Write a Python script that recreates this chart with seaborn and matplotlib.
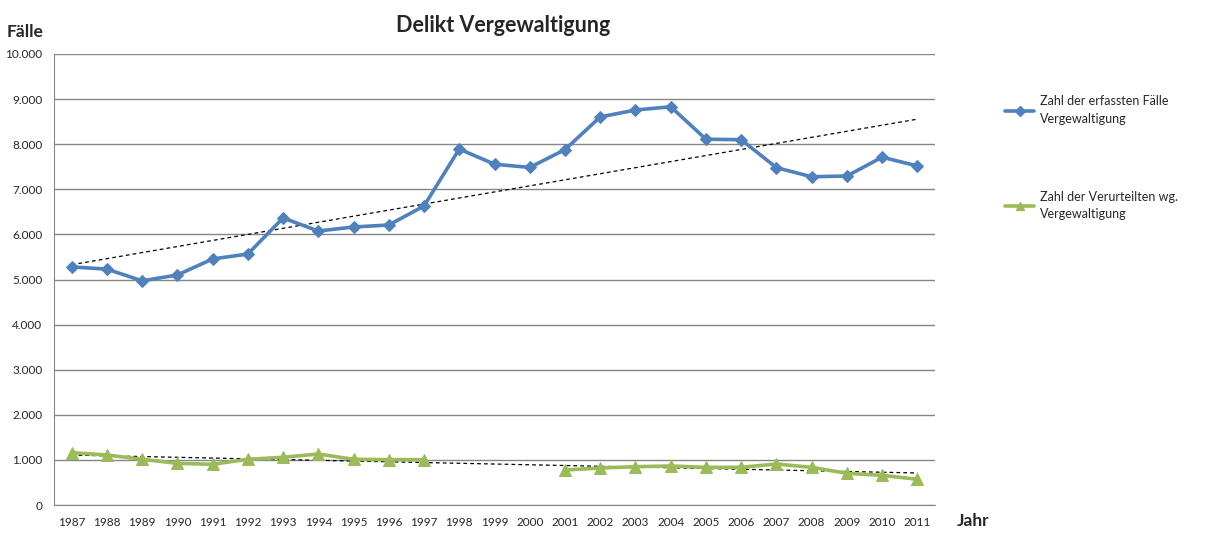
import numpy as np
import pandas as pd
import matplotlib
matplotlib.use("Agg")
import matplotlib.pyplot as plt
import seaborn as sns
from matplotlib.ticker import FuncFormatter, MultipleLocator
from matplotlib.lines import Line2D

years = list(range(1987, 2012))
faelle = [5280, 5230, 4970, 5100, 5455, 5565, 6364, 6075, 6164, 6208, 6630,
          7893, 7556, 7485, 7880, 8605, 8758, 8830, 8110, 8100, 7480, 7278,
          7295, 7712, 7517]
verurteilte = [1160, 1109, 1013, 924, 902, 1013, 1058, 1131, 1013, 1005, 1005,
               np.nan, np.nan, np.nan, 776, 820, 850, 865, 835, 835, 909, 835,
               702, 658, 570]

label_faelle = "Zahl der erfassten Fälle\nVergewaltigung"
label_verurteilte = "Zahl der Verurteilten wg.\nVergewaltigung"

blue = "#4F81BD"
green = "#9BBB59"
grid_col = "#868686"

sns.set_style("white")
plt.rcParams["font.family"] = ["Lato", "DejaVu Sans"]

df = pd.DataFrame({"Jahr": years, "faelle": faelle, "verurteilte": verurteilte})
# segment id so the gap 1998-2000 stays open
df["seg"] = df["verurteilte"].isna().cumsum()

fig = plt.figure(figsize=(12.19, 5.36), dpi=100)
ax = fig.add_axes([54 / 1219, 31 / 536, 881 / 1219, 451 / 536])

# trend lines (linear, like Excel)
sns.regplot(data=df, x="Jahr", y="faelle", scatter=False, ci=None, ax=ax,
            line_kws=dict(color="black", lw=0.9, ls=(0, (3, 2.5))))
sns.regplot(data=df.dropna(), x="Jahr", y="verurteilte", scatter=False, ci=None, ax=ax,
            line_kws=dict(color="black", lw=0.9, ls=(0, (3, 2.5))))

sns.lineplot(data=df, x="Jahr", y="faelle", color=blue, lw=2.6, marker="D",
             markersize=6.5, markeredgecolor=blue, ax=ax, zorder=3)
for _, seg in df.dropna().groupby("seg"):
    sns.lineplot(data=seg, x="Jahr", y="verurteilte", color=green, lw=2.6, marker="^",
                 markersize=8, markeredgecolor=green, ax=ax, zorder=3)

ax.set_xlim(1986.5, 2011.5)
ax.set_ylim(0, 10000)
ax.yaxis.set_major_locator(MultipleLocator(1000))
ax.yaxis.set_major_formatter(FuncFormatter(lambda v, p: f"{int(v):,}".replace(",", ".")))
ax.set_xticks(years)
ax.set_xticklabels([str(y) for y in years])
ax.set_xticks(np.arange(1986.5, 2012, 1), minor=True)
ax.tick_params(axis="x", which="major", length=0, labelsize=8.5, pad=9)
ax.tick_params(axis="x", which="minor", length=5, color=grid_col, direction="out")
ax.tick_params(axis="y", length=5, color=grid_col, labelsize=8.5, direction="out")
ax.grid(axis="y", color=grid_col, lw=1)
ax.set_axisbelow(True)
for s in ["top", "right"]:
    ax.spines[s].set_visible(False)
for s in ["left", "bottom"]:
    ax.spines[s].set_color(grid_col)
ax.set_xlabel("")
ax.set_ylabel("")

fig.text(503 / 1219, 1 - 25 / 536, "Delikt Vergewaltigung", ha="center", va="center",
         fontsize=15.5, fontweight="bold")
fig.text(7 / 1219, 1 - 32 / 536, "Fälle", ha="left", va="center", fontsize=12.5, fontweight="bold")
fig.text(957 / 1219, 1 - 521 / 536, "Jahr", ha="left", va="center", fontsize=12.5, fontweight="bold")

handles = [Line2D([], [], color=blue, lw=2.6, marker="D", markersize=5),
           Line2D([], [], color=green, lw=2.6, marker="^", markersize=6)]
leg = fig.legend(handles, [label_faelle, label_verurteilte], loc="upper left",
                 bbox_to_anchor=(994 / 1219, 1 - 84 / 536), frameon=False, fontsize=9,
                 labelspacing=5.3, handlelength=2.3, handletextpad=0.5)
for t in leg.get_texts():
    t.set_linespacing(1.55)

fig.savefig("out.png", dpi=100, facecolor="white")
